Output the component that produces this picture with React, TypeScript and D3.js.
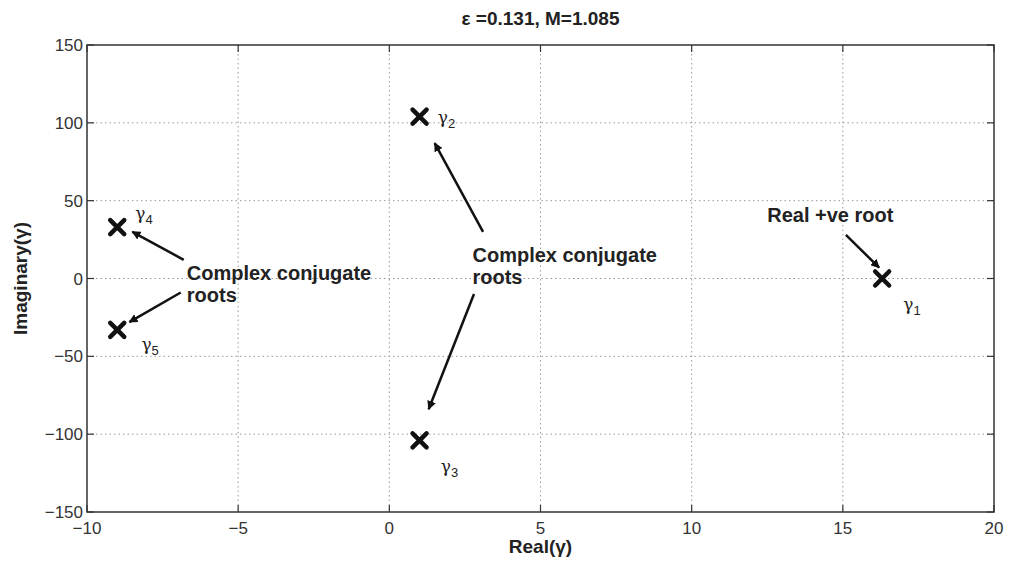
import React from "react";
import * as d3 from "d3";

const xTicks = [-10, -5, 0, 5, 10, 15, 20];
const yTicks = [-150, -100, -50, 0, 50, 100, 150];
const rootRe = [16.3, 1, 1, -9, -9];
const rootIm = [0, 104, -104, 33, -33];
const rootNames = ["1", "2", "3", "4", "5"];
// label offsets in data units
const labelRe = [17, 1.6, 1.7, -8.4, -8.2];
const labelIm = [-20, 100, -124, 38, -46];

// annotations: [textX, textY] and arrows [fromX, fromY, toX, toY] in data units
const annoTexts = [
  { lines: ["Complex conjugate", "roots"], x: -6.7, y: -1 },
  { lines: ["Complex conjugate", "roots"], x: 2.75, y: 10.5 },
  { lines: ["Real +ve root"], x: 12.5, y: 36 },
];
const arrows = [
  [-6.8, 12, -8.5, 30],
  [-6.9, -9, -8.6, -28],
  [3.1, 30, 1.5, 87],
  [2.8, -10, 1.3, -84],
  [15.1, 28, 16.2, 7],
];

const W = 1013, H = 562;
const L = 87, R = 994, T = 45, B = 512;

export default function App() {
  const x = d3.scaleLinear().domain([-10, 20]).range([L, R]);
  const y = d3.scaleLinear().domain([-150, 150]).range([B, T]);
  const font = "'Liberation Sans', Arial, Helvetica, sans-serif";
  const tick = 7;
  return (
    <svg width={W} height={H} style={{ position: "absolute", left: 0, top: 0, background: "#fff" }} fontFamily={font}>
      <defs>
        <marker id="ah" viewBox="0 0 10 10" refX="9" refY="5" markerWidth="9" markerHeight="9" markerUnits="userSpaceOnUse" orient="auto">
          <path d="M0,0 L10,5 L0,10 Z" fill="#111" />
        </marker>
      </defs>
      <rect x={0} y={0} width={W} height={H} fill="#fff" />
      {/* grid */}
      {xTicks.slice(1, -1).map((t) => (
        <line key={"gx" + t} x1={x(t)} x2={x(t)} y1={T} y2={B} stroke="#999" strokeWidth={1} strokeDasharray="1.5,3" />
      ))}
      {yTicks.slice(1, -1).map((t) => (
        <line key={"gy" + t} x1={L} x2={R} y1={y(t)} y2={y(t)} stroke="#999" strokeWidth={1} strokeDasharray="1.5,3" />
      ))}
      {/* ticks */}
      {xTicks.map((t) => (
        <g key={"tx" + t}>
          <line x1={x(t)} x2={x(t)} y1={B} y2={B - tick} stroke="#333" strokeWidth={1.2} />
          <line x1={x(t)} x2={x(t)} y1={T} y2={T + tick} stroke="#333" strokeWidth={1.2} />
          <text x={x(t)} y={B + 22} textAnchor="middle" fontSize={17} fill="#333">
            {t < 0 ? "\u2212" + Math.abs(t) : t}
          </text>
        </g>
      ))}
      {yTicks.map((t) => (
        <g key={"ty" + t}>
          <line x1={L} x2={L + tick} y1={y(t)} y2={y(t)} stroke="#333" strokeWidth={1.2} />
          <line x1={R} x2={R - tick} y1={y(t)} y2={y(t)} stroke="#333" strokeWidth={1.2} />
          <text x={L - 4} y={y(t) + 6} textAnchor="end" fontSize={17} fill="#333">
            {t < 0 ? "\u2212" + Math.abs(t) : t}
          </text>
        </g>
      ))}
      <rect x={L} y={T} width={R - L} height={B - T} fill="none" stroke="#333" strokeWidth={1.5} />
      {/* title & labels */}
      <text x={(L + R) / 2} y={25} textAnchor="middle" fontSize={19} fontWeight="bold" fill="#222">
        ε =0.131, M=1.085
      </text>
      <text x={(L + R) / 2} y={553} textAnchor="middle" fontSize={19} fontWeight="bold" fill="#222">
        Real(γ)
      </text>
      <text transform={`translate(27,${(T + B) / 2}) rotate(-90)`} textAnchor="middle" fontSize={19} fontWeight="bold" fill="#222">
        Imaginary(γ)
      </text>
      {/* arrows */}
      {arrows.map((a, i) => (
        <line key={"ar" + i} x1={x(a[0])} y1={y(a[1])} x2={x(a[2])} y2={y(a[3])} stroke="#111" strokeWidth={2.5} markerEnd="url(#ah)" />
      ))}
      {/* annotation text */}
      {annoTexts.map((a, i) => (
        <text key={"an" + i} x={x(a.x)} y={y(a.y)} fontSize={20} fontWeight="bold" fill="#222">
          {a.lines.map((l, j) => (
            <tspan key={j} x={x(a.x)} dy={j === 0 ? 0 : 22}>{l}</tspan>
          ))}
        </text>
      ))}
      {/* roots */}
      {rootRe.map((r, i) => {
        const cx = x(r), cy = y(rootIm[i]);
        const s = 7;
        return (
          <g key={"rt" + i}>
            <path d={`M${cx - s},${cy - s}L${cx + s},${cy + s}M${cx - s},${cy + s}L${cx + s},${cy - s}`} stroke="#111" strokeWidth={4.5} strokeLinecap="round" />
            <text x={x(labelRe[i])} y={y(labelIm[i])} fontSize={17} fill="#222" fontFamily="'DejaVu Serif', serif">
              γ<tspan fontSize={13} dy={5} fontFamily={font}>{rootNames[i]}</tspan>
            </text>
          </g>
        );
      })}
    </svg>
  );
}
